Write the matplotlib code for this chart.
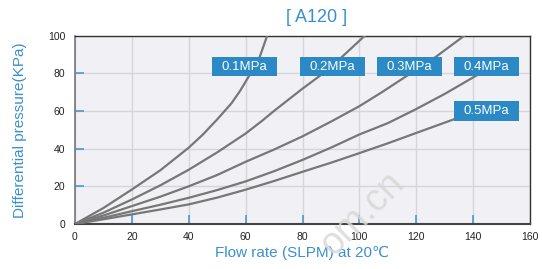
import matplotlib
matplotlib.use("Agg")
import matplotlib.pyplot as plt
from matplotlib.patches import Rectangle

plt.rcParams["font.family"] = ["Liberation Sans", "DejaVu Sans"]

BLUE = "#3a90cf"
BOX = "#2b89c5"
LINE = "#777777"

# flow (SLPM) vs differential pressure (kPa), one curve per inlet pressure
flow_01 = [0, 10, 20, 30, 40, 45, 50, 55, 58, 61, 63, 65, 67.6]
dp_01 = [0, 8.5, 18.3, 28.5, 40.5, 47.5, 55.5, 64, 70.5, 78, 83, 88.8, 100]

flow_02 = [0, 10, 20, 30, 40, 50, 60, 66, 70, 80, 86, 94, 102]
dp_02 = [0, 6, 13, 20.5, 28.8, 38, 48, 55, 60, 71.8, 78.5, 88.8, 100]

flow_03 = [0, 10, 20, 30, 40, 50, 60, 70, 80, 90, 100, 108, 116.5, 127, 137]
dp_03 = [0, 4.5, 9.5, 14.5, 20, 26, 33, 39.5, 46.5, 54.3, 62.5, 70, 78.4, 88.8, 100]

flow_04 = [0, 10, 20, 30, 40, 50, 60, 70, 80, 90, 100, 110, 120, 130, 142]
dp_04 = [0, 3.3, 6.8, 10.2, 13.9, 18, 22.6, 28, 34, 40.5, 47.5, 53.5, 61, 69, 79.5]

flow_05 = [0, 10, 20, 30, 40, 50, 60, 70, 80, 90, 100, 110, 120, 135]
dp_05 = [0, 2.5, 5.1, 7.7, 10.4, 14, 18.2, 22.8, 27.7, 32.5, 37.6, 42.8, 48.3, 56.5]

series_labels = ["0.1MPa", "0.2MPa", "0.3MPa", "0.4MPa", "0.5MPa"]
label_x = [59.5, 90.5, 117.6, 144.7, 144.7]
label_y = [83.5, 83.5, 83.5, 83.5, 59.8]

x_ticks = [0, 20, 40, 60, 80, 100, 120, 140, 160]
y_ticks = [0, 20, 40, 60, 80, 100]


fig = plt.figure(figsize=(5.42, 2.69), dpi=100)
ax = fig.add_axes([75 / 542, 1 - 224 / 269, 455 / 542, 188.5 / 269])
ax.set_facecolor("#f1f0f4")

curves = [(flow_01, dp_01), (flow_02, dp_02), (flow_03, dp_03),
          (flow_04, dp_04), (flow_05, dp_05)]
for fx, fy in curves:
    ax.plot(fx, fy, color=LINE, lw=1.6, zorder=3, solid_joinstyle="round")

box_w, box_h = 22.85, 10.5
for text, lx, ly in zip(series_labels, label_x, label_y):
    ax.add_patch(Rectangle((lx - box_w / 2, ly - box_h / 2), box_w, box_h,
                           facecolor=BOX, edgecolor="none", zorder=4))
    ax.text(lx, ly, text, color="white", fontsize=9.5, ha="center",
            va="center", zorder=5)

ax.set_xlim(0, 160)
ax.set_ylim(0, 100)
ax.set_xticks(x_ticks)
ax.set_yticks(y_ticks)
ax.grid(True, color="#d6d6da", lw=1.0, zorder=0)
ax.set_axisbelow(True)

ax.tick_params(axis="both", direction="in", length=6.5, width=1.2,
               color="#4a98d2", labelsize=7.5, labelcolor="#222222")
ax.tick_params(axis="x", pad=5.5)
ax.tick_params(axis="y", pad=7)
for t in (ax.xaxis.get_major_ticks()[0], ax.xaxis.get_major_ticks()[-1],
          ax.yaxis.get_major_ticks()[0], ax.yaxis.get_major_ticks()[-1]):
    t.tick1line.set_visible(False)

for side in ("top", "right"):
    ax.spines[side].set_color("#333333")
    ax.spines[side].set_linewidth(1.0)
ax.spines["left"].set_color("#777777")
ax.spines["left"].set_linewidth(1.2)
ax.spines["bottom"].set_color("#444444")
ax.spines["bottom"].set_linewidth(1.5)

ax.set_xlabel("Flow rate (SLPM) at 20\u2103", color=BLUE, fontsize=11)
ax.xaxis.set_label_coords(0.5, -0.115)
ax.set_ylabel("Differential pressure(KPa)", color=BLUE, fontsize=11)
ax.yaxis.set_label_coords(-0.105, 0.5)

fig.text(317 / 542, 1 - 18 / 269, "[ A120 ]", color=BLUE, fontsize=13,
         ha="center", va="center")

# faint watermark
fig.text(362 / 542, 1 - 214 / 269, "om.cn", color="#d8d8d8", alpha=0.85,
         fontsize=27, rotation=45, ha="center", va="center", zorder=10)

fig.savefig("out.png", dpi=100)
